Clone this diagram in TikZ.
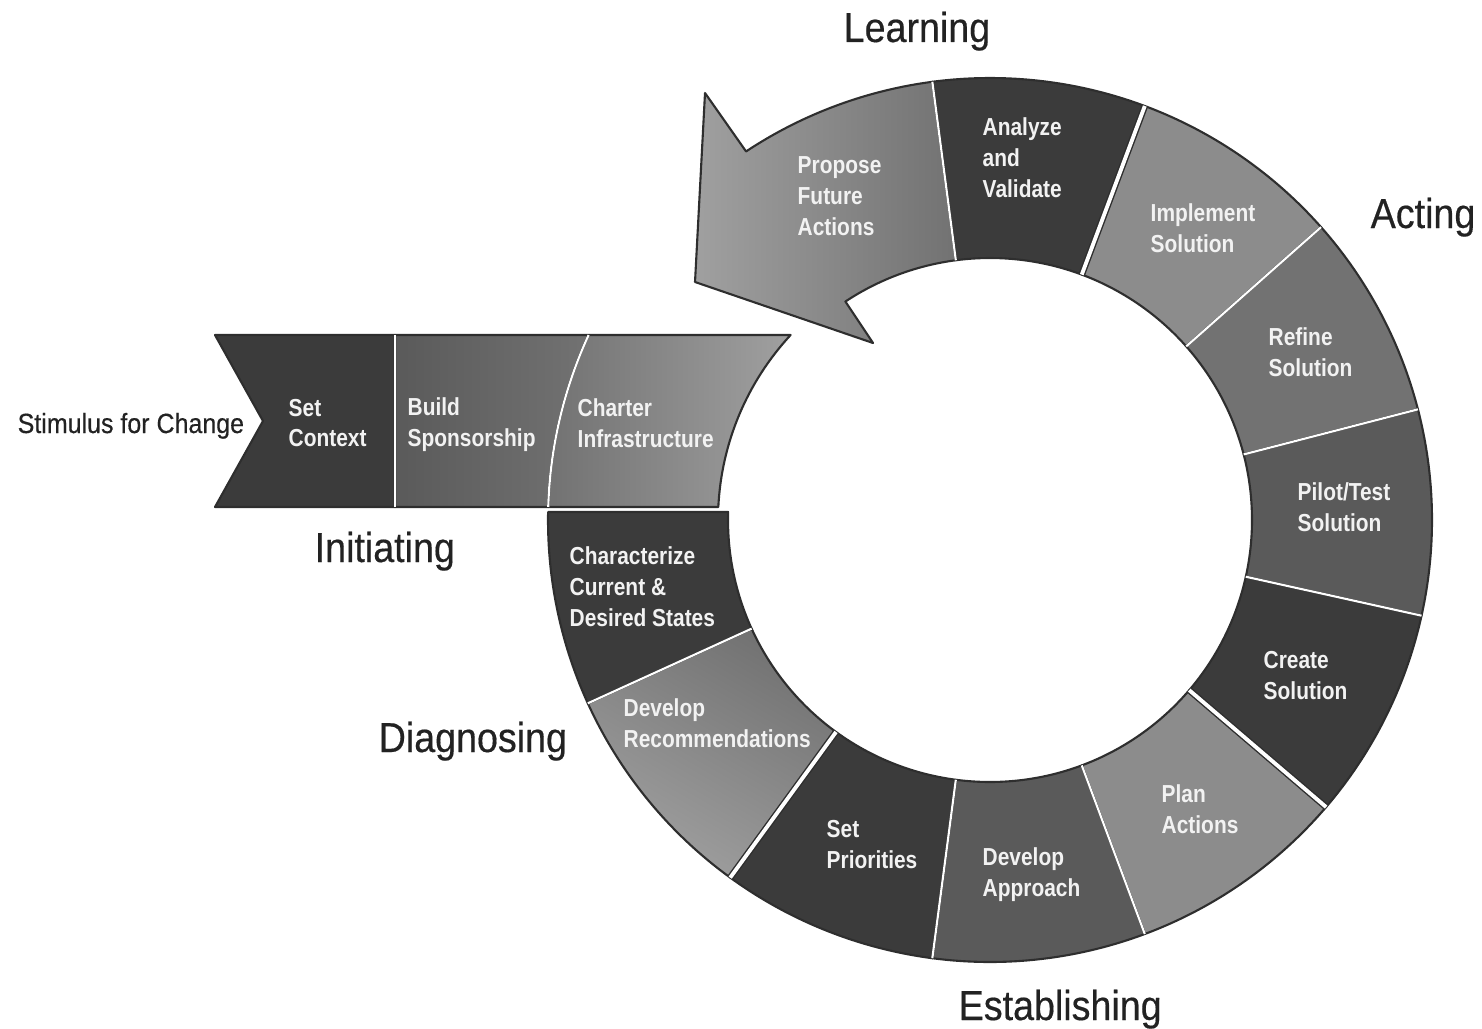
\documentclass[tikz,border=0pt]{standalone}
\usepackage{fontspec}
\setmainfont{Liberation Sans}
\newfontfamily\lblfont[FakeStretch=0.9,FakeBold=0.4]{Liberation Sans}
\newfontfamily\segfont[FakeStretch=0.85]{Liberation Sans}
\usetikzlibrary{calc}
\definecolor{edgecol}{HTML}{2E2E2E}
\definecolor{labelcol}{HTML}{222222}
\definecolor{segtxt}{HTML}{F2F2F2}
\definecolor{cdark}{HTML}{3B3B3B}
\definecolor{cmid}{HTML}{5A5A5A}
\definecolor{cmidl}{HTML}{727272}
\definecolor{clight}{HTML}{8C8C8C}
\definecolor{clighter}{HTML}{A0A0A0}
\newcommand\Rout{4.42}
\newcommand\Rin{2.62}
\newcommand\ringseg[3]{\path[#3] ($(C)+(#1:\Rout)$) arc[start angle=#1,end angle=#2,radius=\Rout] -- ($(C)+(#2:\Rin)$) arc[start angle=#2,end angle=#1,radius=\Rin] -- cycle;}
\newcommand\radline[2]{\draw[#2] ($(C)+(#1:\Rin)$) -- ($(C)+(#1:\Rout)$);}
\tikzset{
  seg/.style={draw=edgecol, line width=0.6pt, line join=round},
  thinsep/.style={draw=white, line width=0.6pt},
  gapdark/.style={draw=edgecol, line width=1.9pt},
  gapwhite/.style={draw=white, line width=1.1pt},
  segtext/.style={font=\segfont\bfseries\fontsize{7}{8.8}\selectfont, text=segtxt, align=left, anchor=west, inner sep=0pt},
  phase/.style={font=\lblfont\fontsize{11.9}{14}\selectfont, text=labelcol, anchor=base west, inner sep=0pt},
}
\begin{document}
\begin{tikzpicture}
\useasboundingbox (0,0) rectangle (14.82,-10.28);
\coordinate (C) at (9.9,-5.2);

% ---- Initiating band ----
\path[seg, fill=cdark] (2.15,-3.35) -- (3.95,-3.35) -- (3.95,-5.07) -- (2.15,-5.07) -- (2.63,-4.21) -- cycle;
\path[seg, left color=cmid, right color=cmidl] (3.95,-3.35) -- ($(C)+(155.26:\Rout)$) arc[start angle=155.26,end angle=178.31,radius=\Rout] -- (3.95,-5.07) -- cycle;
\path[seg, left color=cmidl, right color=clighter] ($(C)+(155.26:\Rout)$) -- ($(C)+(137.15:2.72)$) arc[start angle=137.15,end angle=177.26,radius=2.72] -- ($(C)+(178.31:\Rout)$) arc[start angle=178.31,end angle=155.26,radius=\Rout] -- cycle;
\draw[thinsep] (3.95,-3.35) -- (3.95,-5.07);
\draw[thinsep] ($(C)+(155.26:\Rout)$) arc[start angle=155.26,end angle=178.31,radius=\Rout];

% ---- Learning arrow ----
\ringseg{69.5}{97.5}{seg, fill=cdark}
\path[seg, left color=clighter, right color=cmidl] ($(C)+(97.5:\Rout)$) arc[start angle=97.5,end angle=123.5,radius=\Rout] -- (7.05,-0.93) -- (6.95,-2.82) -- (8.73,-3.43) -- ($(C)+(123.5:\Rin)$) arc[start angle=123.5,end angle=97.5,radius=\Rin] -- cycle;
\radline{97.5}{thinsep}

% ---- Acting ----
\ringseg{41.5}{69.5}{seg, fill=clight}
\ringseg{14.5}{41.5}{seg, fill=cmidl}
\ringseg{-12.5}{14.5}{seg, fill=cmid}
\ringseg{-40.5}{-12.5}{seg, fill=cdark}
\radline{41.5}{thinsep}
\radline{14.5}{thinsep}
\radline{-12.5}{thinsep}

% ---- Establishing ----
\ringseg{-69.5}{-40.5}{seg, fill=clight}
\ringseg{-97.5}{-69.5}{seg, fill=cmid}
\ringseg{-126}{-97.5}{seg, fill=cdark}
\radline{-69.5}{thinsep}
\radline{-97.5}{thinsep}

% ---- Diagnosing ----
\ringseg{-155.5}{-126}{seg, top color=cmidl, bottom color=clighter, shading angle=-30}
\path[seg, fill=cdark] ($(C)+(178.96:\Rout)$) arc[start angle=178.96,end angle=204.5,radius=\Rout] -- ($(C)+(204.5:\Rin)$) arc[start angle=204.5,end angle=178.25,radius=\Rin] -- cycle;
\radline{-155.5}{thinsep}

% ---- group gaps ----
\radline{69.5}{gapdark}
\radline{69.5}{gapwhite}
\radline{-40.5}{gapdark}
\radline{-40.5}{gapwhite}
\radline{-126}{gapdark}
\radline{-126}{gapwhite}

% ---- segment texts ----
\node[segtext] (setctx) at (2.88,-4.23) {Set\\Context};
\node[segtext] (build) at (4.07,-4.25) {Build\\Sponsorship};
\node[segtext] (charter) at (5.77,-4.23) {Charter\\Infrastructure};
\node[segtext] (propose) at (7.97,-1.96) {Propose\\Future\\Actions};
\node[segtext] (analyze) at (9.82,-1.575) {Analyze\\and\\Validate};
\node[segtext] (implement) at (11.50,-2.285) {Implement\\Solution};
\node[segtext] (refine) at (12.68,-3.525) {Refine\\Solution};
\node[segtext] (pilot) at (12.97,-5.07) {Pilot/Test\\Solution};
\node[segtext] (create) at (12.63,-6.755) {Create\\Solution};
\node[segtext] (plan) at (11.61,-8.095) {Plan\\Actions};
\node[segtext] (approach) at (9.82,-8.75) {Develop\\Approach};
\node[segtext] (priorities) at (8.26,-8.445) {Set\\Priorities};
\node[segtext] (recommend) at (6.23,-7.235) {Develop\\Recommendations};
\node[segtext] (characterize) at (5.69,-5.865) {Characterize\\Current \&\\Desired States};

% ---- phase labels ----
\node[phase] (learning) at (8.43,-0.42) {Learning};
\node[phase] (acting) at (13.70,-2.28) {Acting};
\node[phase] (initiating) at (3.14,-5.62) {Initiating};
\node[phase] (diagnosing) at (3.78,-7.52) {Diagnosing};
\node[phase] (establishing) at (9.58,-10.20) {Establishing};
\node[phase, font=\lblfont\fontsize{7.9}{10}\selectfont] (stimulus) at (0.17,-4.33) {Stimulus for Change};
\end{tikzpicture}
\end{document}
